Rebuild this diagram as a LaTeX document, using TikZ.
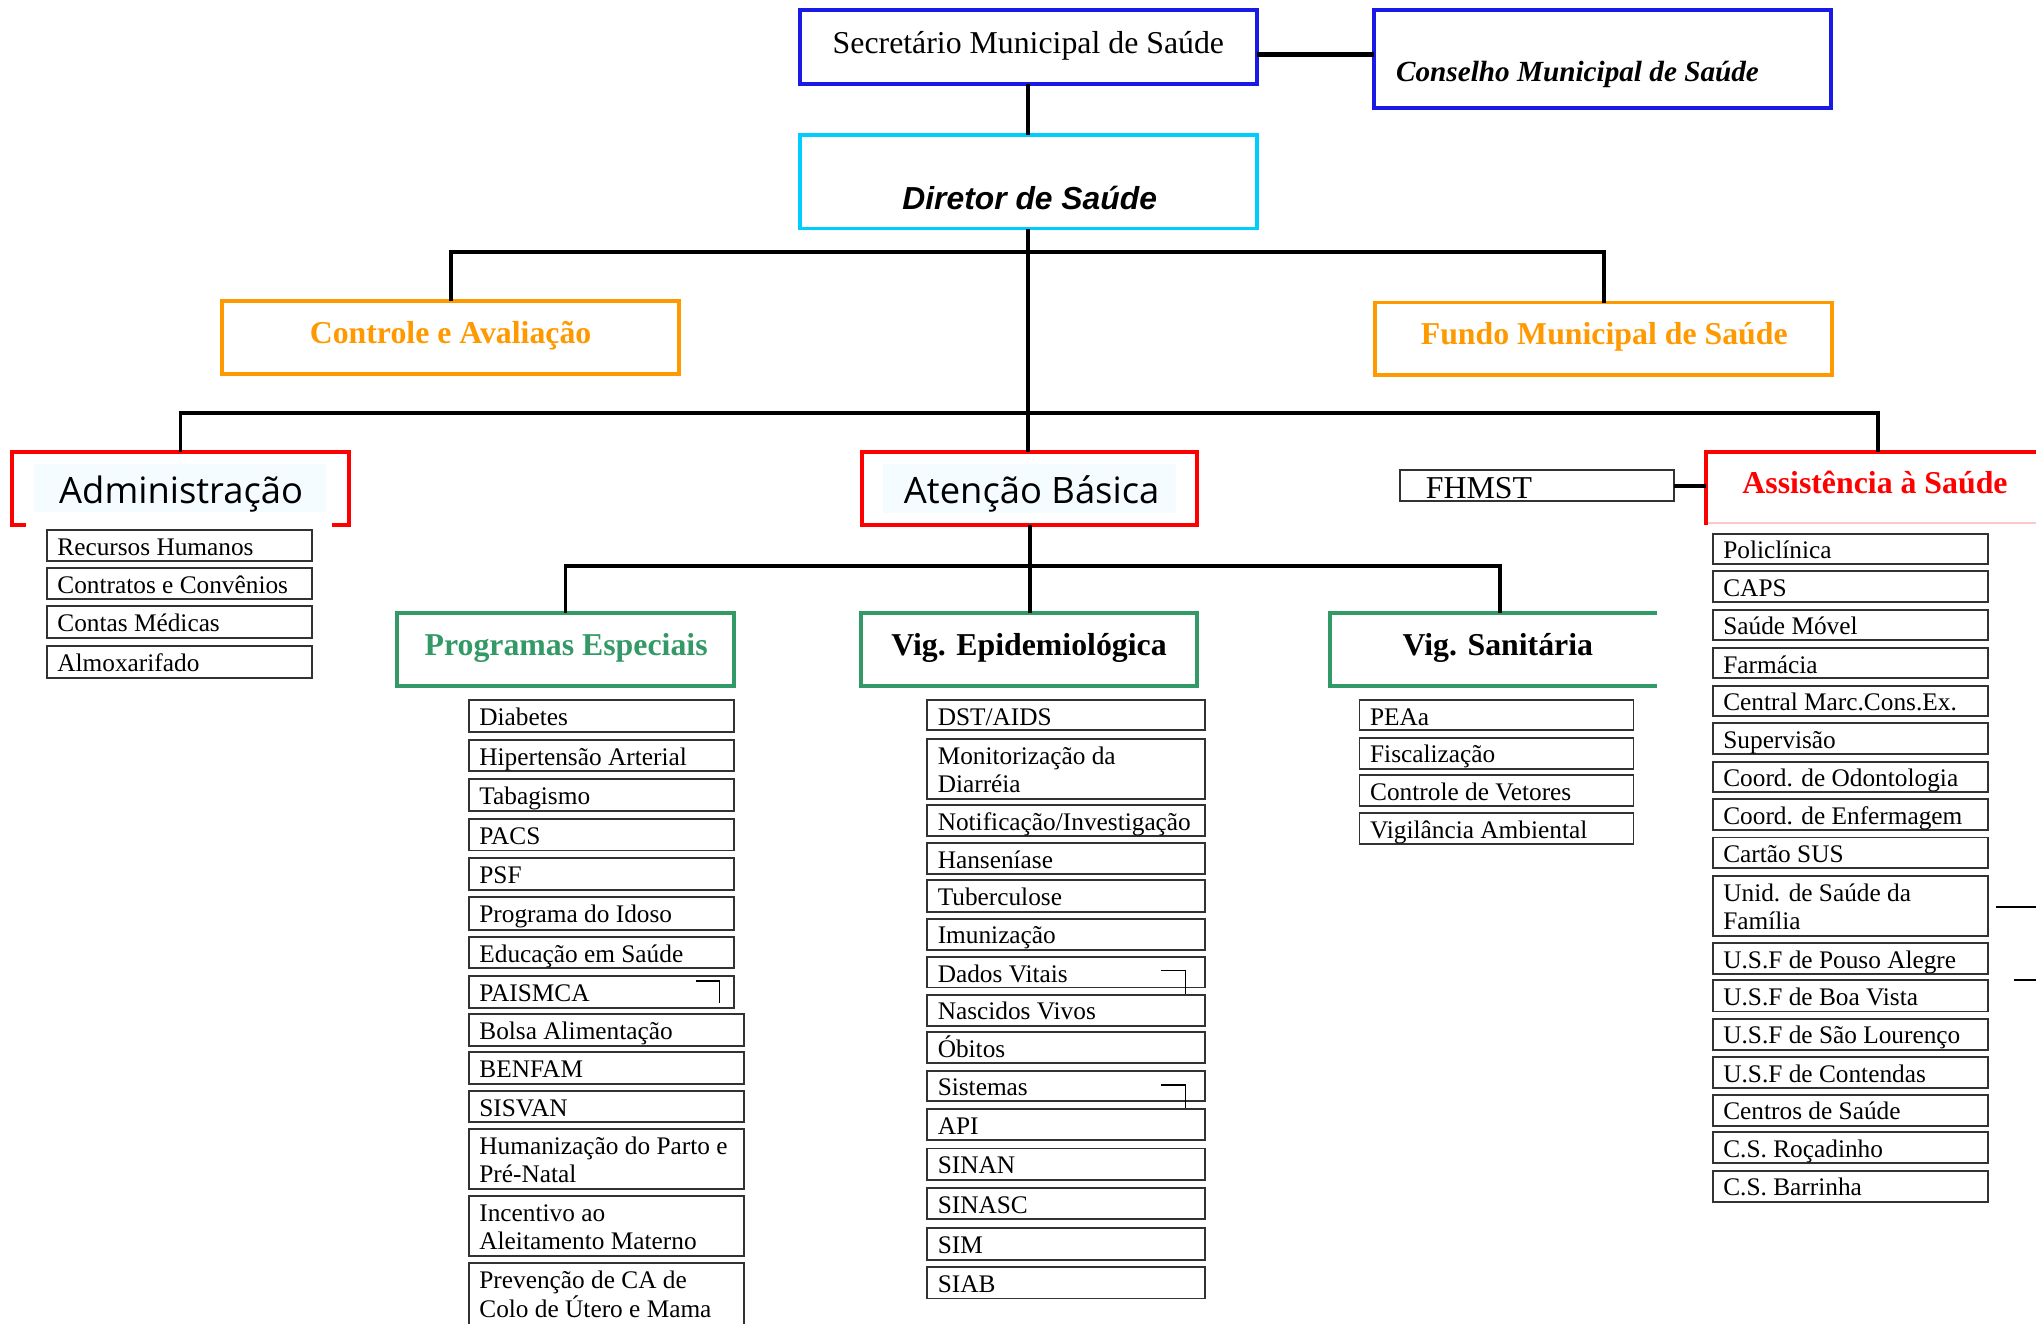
\documentclass[tikz,border=0pt]{standalone}
\usepackage{fontspec}
\setmainfont{Liberation Serif}
\newfontfamily\arialf{Liberation Sans}
\newfontfamily\comicf{Open Sans}
\definecolor{blueC}{RGB}{26,26,230}
\definecolor{cyanC}{RGB}{0,204,255}
\definecolor{orangeC}{RGB}{255,153,0}
\definecolor{redC}{RGB}{255,0,0}
\definecolor{greenC}{RGB}{51,153,102}
\definecolor{pinkC}{RGB}{255,200,200}
\definecolor{azureC}{RGB}{245,252,255}
\definecolor{subgray}{RGB}{50,50,50}
\tikzset{
  conn/.style={line width=3pt, draw=black},
  hbox/.style={draw, rectangle, line width=3pt, inner sep=0pt, outer sep=0pt},
  subbox/.style={draw=subgray, rectangle, line width=1.5pt, inner sep=0pt, outer sep=0pt},
  subtxt/.style={anchor=base west, inner sep=0pt, font=\fontsize{19.5}{22}\selectfont},
  head/.style={anchor=base, inner sep=0pt, font=\fontsize{24.5}{28}\selectfont\bfseries},
  comichead/.style={anchor=base, inner sep=0pt, font=\comicf\fontsize{28}{32}\selectfont},
  cornermk/.style={line width=1.2pt, draw=black},
}
\newcommand\mysub[6]{%
  \node[subbox, minimum width=#4, minimum height=#5, anchor=north west] (#1) at (#2,#3) {};
  \node[subtxt] (#1-t) at ([shift={(8,19.5)}]#1.north west) {#6};}
\newcommand\mysubii[7]{%
  \node[subbox, minimum width=#4, minimum height=#5, anchor=north west] (#1) at (#2,#3) {};
  \node[subtxt] (#1-t) at ([shift={(8,19.5)}]#1.north west) {#6};
  \node[subtxt] (#1-u) at ([shift={(8,41.5)}]#1.north west) {#7};}
\begin{document}
\begin{tikzpicture}[x=1pt,y=-1pt]
\useasboundingbox (0,0) rectangle (1568,1019);
\clip (0,0) rectangle (1568,1019);
\fill[white] (0,0) rectangle (1568,1019);

% bus coordinates
\coordinate (b1) at (0,194);
\coordinate (b2) at (0,318);
\coordinate (b3) at (0,436);
\coordinate (bsc) at (0,42);

% top level
\node[hbox, draw=blueC, minimum width=352, minimum height=57] (sec) at (792,36.5) {};
\node[anchor=base, inner sep=0pt, font=\fontsize{24.5}{28}\selectfont] (sec-t) at (792,41) {Secretário Municipal de Saúde};
\node[hbox, draw=blueC, minimum width=352, minimum height=75] (cms) at (1234,45.5) {};
\node[anchor=base west, inner sep=0pt, font=\fontsize{22.5}{26}\selectfont\bfseries\itshape] (cms-t) at (1075,63) {Conselho Municipal de Saúde};
\node[hbox, draw=cyanC, minimum width=352, minimum height=72] (dir) at (792,140) {};
\node[anchor=base, inner sep=0pt, font=\arialf\bfseries\itshape\fontsize{24.5}{28}\selectfont] (dir-t) at (793,161.5) {Diretor de Saúde};

\node[hbox, draw=orangeC, minimum width=352, minimum height=56] (ca) at (347,260) {};
\node[head, text=orangeC] (ca-t) at (347,264.5) {Controle e Avaliação};
\node[hbox, draw=orangeC, minimum width=352, minimum height=56] (fms) at (1235,261) {};
\node[head, text=orangeC] (fms-t) at (1235.5,265.5) {Fundo Municipal de Saúde};

% Administração
\node[inner sep=0pt, outer sep=0pt, minimum width=260, minimum height=56] (adm) at (139,376) {};
\fill[azureC] (26,357) rectangle (251,394);
\draw[redC, line width=3pt] (20,404) -- (9,404) -- (9,348) -- (269,348) -- (269,404) -- (256,404);
\node[comichead] (adm-t) at (139.5,388) {Administração};

% Atenção Básica
\node[hbox, draw=redC, minimum width=258, minimum height=56] (ab) at (793,376) {};
\fill[azureC] (680,357) rectangle (906,395);
\node[comichead] (ab-t) at (794.5,388) {Atenção Básica};

% FHMST
\node[subbox, minimum width=211, minimum height=24] (fh) at (1183.5,374) {};
\node[anchor=base west, inner sep=0pt, font=\fontsize{24.5}{28}\selectfont] (fh-t) at (1098,384) {FHMST};

% Assistência à Saúde
\coordinate (ass-top) at (1446,348);
\coordinate (ass-w) at (1314,374);
\draw[pinkC, line width=1.5pt] (1314,403) -- (1575,403);
\draw[redC, line width=3pt] (1575,348) -- (1314,348) -- (1314,404);
\node[head, text=redC] (ass-t) at (1444,380) {Assistência à Saúde};

% third level
\node[hbox, draw=greenC, minimum width=259, minimum height=56] (pe) at (435.5,500) {};
\node[head, text=greenC] (pe-t) at (436,504.5) {Programas Especiais};
\node[hbox, draw=greenC, minimum width=259, minimum height=56] (ve) at (792.5,500) {};
\node[head] (ve-t) at (792.5,504.5) {Vig. Epidemiológica};
\coordinate (vs-top) at (1155,472);
\draw[greenC, line width=3pt] (1276,472) -- (1024,472) -- (1024,528) -- (1276,528);
\node[head] (vs-t) at (1153.5,504.5) {Vig. Sanitária};

% connectors
\draw[conn, line width=4pt] (sec.east |- bsc) -- (cms.west |- bsc);
\draw[conn] (sec.south) -- (dir.north);
\draw[conn] (dir.south) -- (dir.south |- ab.north);
\draw[conn] (ca.north) -- (ca.north |- b1) -- (fms.north |- b1) -- (fms.north);
\draw[conn] (adm.north) -- (adm.north |- b2) -- (ass-top |- b2) -- (ass-top);
\draw[conn] (ab.south) -- (ab.south |- ve.north);
\draw[conn] (pe.north) -- (pe.north |- b3) -- (vs-top |- b3) -- (vs-top);
\draw[conn] (fh.east) -- (ass-w);

% Administração items
\mysub{a1}{36}{408}{204}{24}{Recursos Humanos}
\mysub{a2}{36}{437.5}{204}{24}{Contratos e Convênios}
\mysub{a3}{36}{467}{204}{24}{Contas Médicas}
\mysub{a4}{36}{497.5}{204}{24.5}{Almoxarifado}

% Programas Especiais items
\mysub{p1}{361}{539}{204}{25}{Diabetes}
\mysub{p2}{361}{570}{204}{24}{Hipertensão Arterial}
\mysub{p3}{361}{600}{204}{24.5}{Tabagismo}
\mysub{p4}{361}{630.5}{204}{24.5}{PACS}
\mysub{p5}{361}{661}{204}{24.5}{PSF}
\mysub{p6}{361}{691}{204}{25}{Programa do Idoso}
\mysub{p7}{361}{721.5}{204}{24}{Educação em Saúde}
\mysub{p8}{361}{751.5}{204}{24.5}{PAISMCA}
\mysub{p9}{361}{781}{212}{24.5}{Bolsa Alimentação}
\mysub{p10}{361}{810.5}{212}{24}{BENFAM}
\mysub{p11}{361}{840}{212}{24}{SISVAN}
\mysubii{p12}{361}{869.5}{212}{46}{Humanização do Parto e}{Pré-Natal}
\mysubii{p13}{361}{921}{212}{46}{Incentivo ao}{Aleitamento Materno}
\mysubii{p14}{361}{973}{212}{70}{Prevenção de CA de}{Colo de Útero e Mama}
\draw[cornermk] (536,755.5) -- (554,755.5) -- (554,772.5);

% Vig. Epidemiológica items
\mysub{e1}{714}{539}{214}{23.5}{DST/AIDS}
\mysubii{e2}{714}{569}{214}{46}{Monitorização da}{Diarréia}
\mysub{e3}{714}{620}{214}{24}{Notificação/Investigação}
\mysub{e4}{714}{649}{214}{24}{Hanseníase}
\mysub{e5}{714}{678}{214}{24}{Tuberculose}
\mysub{e6}{714}{707.5}{214}{24}{Imunização}
\mysub{e7}{714}{737}{214}{23.5}{Dados Vitais}
\mysub{e8}{714}{766}{214}{24}{Nascidos Vivos}
\mysub{e9}{714}{795}{214}{24}{Óbitos}
\mysub{e10}{714}{824.5}{214}{23.5}{Sistemas}
\mysub{e11}{714}{854}{214}{24}{API}
\mysub{e12}{714}{884.5}{214}{24.5}{SINAN}
\mysub{e13}{714}{915}{214}{24}{SINASC}
\mysub{e14}{714}{945.5}{214}{24.5}{SIM}
\mysub{e15}{714}{976}{214}{24}{SIAB}
\draw[cornermk] (894,747.5) -- (913,747.5) -- (913,765.5);
\draw[cornermk] (894,835.5) -- (913,835.5) -- (913,853.5);

% Vig. Sanitária items
\mysub{s1}{1047}{539}{211}{23.5}{PEAa}
\mysub{s2}{1047}{568}{211}{24}{Fiscalização}
\mysub{s3}{1047}{597}{211}{24}{Controle de Vetores}
\mysub{s4}{1047}{626}{211}{24}{Vigilância Ambiental}

% Assistência items
\mysub{h1}{1319}{411}{212}{23.5}{Policlínica}
\mysub{h2}{1319}{440}{212}{23.5}{CAPS}
\mysub{h3}{1319}{469.5}{212}{23.5}{Saúde Móvel}
\mysub{h4}{1319}{499}{212}{23.5}{Farmácia}
\mysub{h5}{1319}{528}{212}{23.5}{Central Marc.Cons.Ex.}
\mysub{h6}{1319}{557}{212}{24}{Supervisão}
\mysub{h7}{1319}{586.5}{212}{23.5}{Coord. de Odontologia}
\mysub{h8}{1319}{615.5}{212}{23.5}{Coord. de Enfermagem}
\mysub{h9}{1319}{645}{212}{23.5}{Cartão SUS}
\mysubii{h10}{1319}{674.5}{212}{46}{Unid. de Saúde da}{Família}
\mysub{h11}{1319}{726}{212}{24}{U.S.F de Pouso Alegre}
\mysub{h12}{1319}{755}{212}{24}{U.S.F de Boa Vista}
\mysub{h13}{1319}{784.5}{212}{24}{U.S.F de São Lourenço}
\mysub{h14}{1319}{814}{212}{24}{U.S.F de Contendas}
\mysub{h15}{1319}{843}{212}{24}{Centros de Saúde}
\mysub{h16}{1319}{872}{212}{24}{C.S. Roçadinho}
\mysub{h17}{1319}{901.5}{212}{24}{C.S. Barrinha}
\coordinate (st1) at (1537,698.5);
\coordinate (st2) at (1551,755);
\draw[line width=1.5pt] (st1) -- ++(40,0);
\draw[line width=1.5pt] (st2) -- ++(30,0);
\end{tikzpicture}
\end{document}
